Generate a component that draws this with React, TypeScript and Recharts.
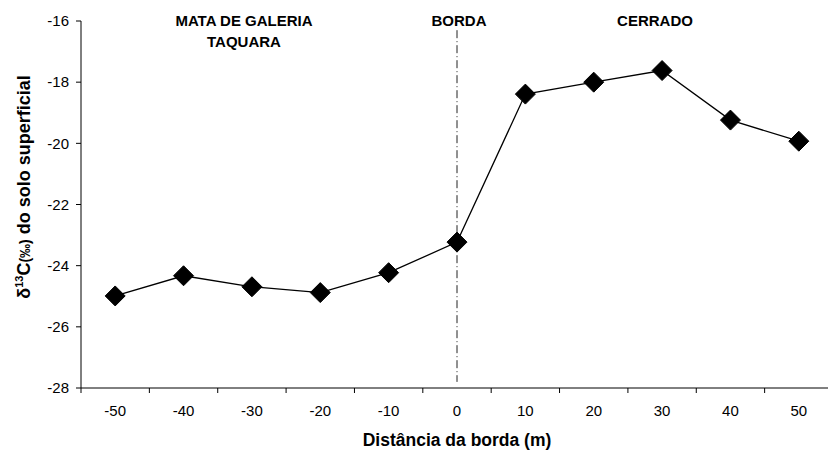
import React from 'react';
import { LineChart, Line, XAxis, YAxis, ReferenceLine, Label } from 'recharts';

const distances = [-50, -40, -30, -20, -10, 0, 10, 20, 30, 40, 50];
const delta13C = [-24.99, -24.33, -24.69, -24.88, -24.23, -23.23, -18.39, -18.0, -17.62, -19.24, -19.93];
const yTicks = [-28, -26, -24, -22, -20, -18, -16];
const xBoundaryTicks = [-55, -45, -35, -25, -15, -5, 5, 15, 25, 35, 45, 55];
const xTitle = 'Distância da borda (m)';
const zoneLabels = [
  { lines: ['MATA DE GALERIA', 'TAQUARA'], x: 244 },
  { lines: ['BORDA'], x: 459 },
  { lines: ['CERRADO'], x: 655 },
];

const data = distances.map((d, i) => ({ x: d, v: delta13C[i] }));
const xTicks = [...xBoundaryTicks, ...distances].sort((a, b) => a - b);
const labeled = new Set(distances);

const FONT = '"Liberation Sans", Arial, sans-serif';

const XTick = (props: any) => {
  const { x, y, payload } = props;
  const v = payload.value;
  const axisY = y - 9;
  if (labeled.has(v)) {
    return (
      <text x={x} y={axisY + 17} dy="0.71em" textAnchor="middle" fontSize={15} fill="#000" fontFamily={FONT}>
        {v}
      </text>
    );
  }
  return <line x1={x} x2={x} y1={axisY} y2={axisY + 5} stroke="#000" strokeWidth={1} />;
};

const Diamond = (props: any) => {
  const { cx, cy, index } = props;
  const r = 10;
  return (
    <path
      key={`d-${index}`}
      d={`M${cx},${cy - r} L${cx + r},${cy} L${cx},${cy + r} L${cx - r},${cy} Z`}
      fill="#000"
      stroke="#000"
    />
  );
};

export default function App() {
  return (
    <div style={{ position: 'absolute', left: 0, top: 0, width: 828, height: 451, overflow: 'hidden', background: '#fff' }}>
      <LineChart width={840} height={451} data={data} margin={{ top: 21, right: 7, left: 0, bottom: 0 }}>
        <XAxis
          dataKey="x"
          type="number"
          domain={[-55, 55]}
          ticks={xTicks}
          interval={0}
          tickLine={false}
          tickSize={5}
          tickMargin={4}
          tick={<XTick />}
          axisLine={{ stroke: '#000' }}
          height={63}
        >
          <Label
            value={xTitle}
            position="insideBottom"
            offset={5}
            style={{ fontSize: 17.5, fontWeight: 'bold', fill: '#000', fontFamily: FONT }}
          />
        </XAxis>
        <YAxis
          type="number"
          domain={[-28, -16]}
          ticks={yTicks}
          interval={0}
          width={81}
          tickSize={5}
          tickMargin={7}
          tick={{ fontSize: 15, fill: '#000', fontFamily: FONT }}
          tickLine={{ stroke: '#000' }}
          axisLine={{ stroke: '#000' }}
        />
        <ReferenceLine
          segment={[{ x: 0, y: -16.3 }, { x: 0, y: -27.8 }]}
          stroke="#222"
          strokeWidth={1}
          strokeDasharray="8 3 1 3"
        />
        <Line
          type="linear"
          dataKey="v"
          stroke="#000"
          strokeWidth={1.3}
          dot={<Diamond />}
          activeDot={false}
          isAnimationActive={false}
        />
      </LineChart>
      <svg
        width={828}
        height={451}
        style={{ position: 'absolute', left: 0, top: 0, pointerEvents: 'none' }}
        fontFamily={FONT}
      >
        {zoneLabels.map((z, i) =>
          z.lines.map((t, j) => (
            <text
              key={`${i}-${j}`}
              x={z.x}
              y={25.5 + j * 21.5}
              textAnchor="middle"
              fontSize={15}
              fontWeight="bold"
              fill="#000"
            >
              {t}
            </text>
          ))
        )}
        <text
          x={30}
          y={187}
          transform="rotate(-90, 30, 187)"
          textAnchor="middle"
          fontSize={18}
          fontWeight="bold"
          fill="#000"
        >
          δ<tspan fontSize={11} dy={-7}>13</tspan>
          <tspan dy={7}>C</tspan>
          <tspan fontSize={14}>(‰)</tspan>
          <tspan> do solo superficial</tspan>
        </text>
      </svg>
    </div>
  );
}
